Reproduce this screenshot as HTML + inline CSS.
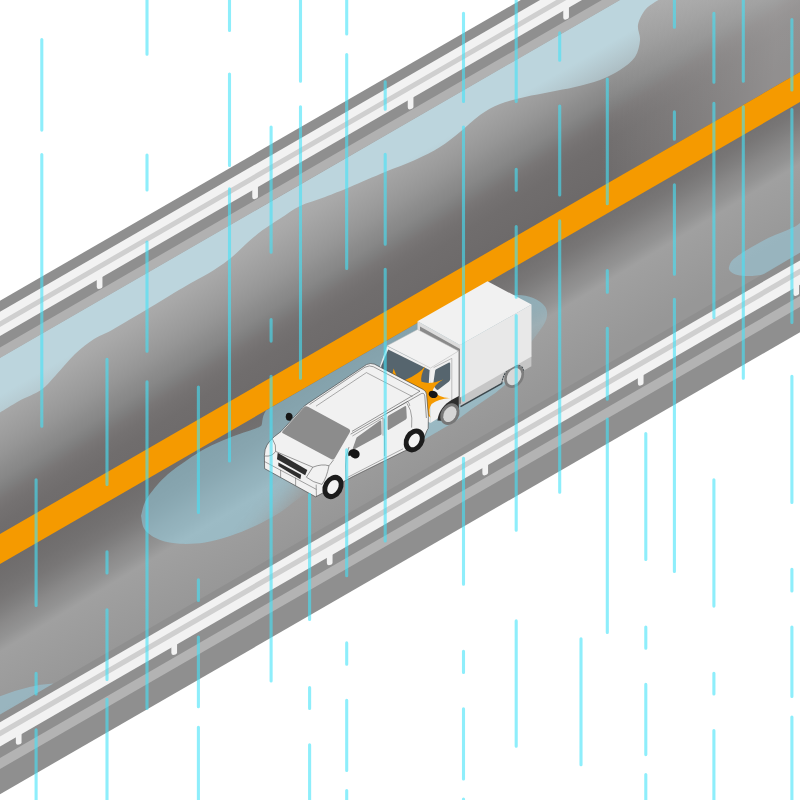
<!DOCTYPE html><html><head><meta charset="utf-8"><style>html,body{margin:0;padding:0;background:#fff;overflow:hidden}svg{display:block}</style></head><body>
<svg width="800" height="800" viewBox="0 0 800 800">
<defs>
<linearGradient id="gU" gradientUnits="userSpaceOnUse" x1="0" y1="340.00" x2="117.26" y2="526.13"><stop offset="0.0000" stop-color="#b0b0b0" stop-opacity="1"/><stop offset="0.2308" stop-color="#ababab" stop-opacity="1"/><stop offset="0.2692" stop-color="#a8a8a8" stop-opacity="1"/><stop offset="0.3846" stop-color="#9c9c9c" stop-opacity="1"/><stop offset="0.4423" stop-color="#959595" stop-opacity="1"/><stop offset="0.5000" stop-color="#8c8c8c" stop-opacity="1"/><stop offset="0.5385" stop-color="#878787" stop-opacity="1"/><stop offset="0.5769" stop-color="#7f7f7f" stop-opacity="1"/><stop offset="0.6154" stop-color="#797676" stop-opacity="1"/><stop offset="0.6538" stop-color="#747171" stop-opacity="1"/><stop offset="0.7115" stop-color="#706d6d" stop-opacity="1"/><stop offset="0.8462" stop-color="#6d6a6a" stop-opacity="1"/><stop offset="1.0000" stop-color="#6d6a6a" stop-opacity="1"/></linearGradient>
<linearGradient id="gL" gradientUnits="userSpaceOnUse" x1="0" y1="530.00" x2="86.69" y2="672.12"><stop offset="0.0000" stop-color="#6e6b6b" stop-opacity="1"/><stop offset="0.1846" stop-color="#6f6c6c" stop-opacity="1"/><stop offset="0.2718" stop-color="#727070" stop-opacity="1"/><stop offset="0.3538" stop-color="#787676" stop-opacity="1"/><stop offset="0.4205" stop-color="#807f7f" stop-opacity="1"/><stop offset="0.4821" stop-color="#8a8989" stop-opacity="1"/><stop offset="0.5590" stop-color="#939393" stop-opacity="1"/><stop offset="0.6256" stop-color="#a0a0a0" stop-opacity="1"/><stop offset="0.7949" stop-color="#9c9c9c" stop-opacity="1"/><stop offset="1.0000" stop-color="#979797" stop-opacity="1"/></linearGradient>
<linearGradient id="wU" gradientUnits="userSpaceOnUse" x1="0" y1="358.00" x2="48.50" y2="442.00"><stop offset="0.0000" stop-color="#bcd5dd" stop-opacity="1"/><stop offset="0.3304" stop-color="#bcd5dd" stop-opacity="1"/><stop offset="0.7321" stop-color="#b4ccd4" stop-opacity="0.6"/><stop offset="1.0000" stop-color="#b0c8d0" stop-opacity="0.45"/></linearGradient>
<linearGradient id="fd1" gradientUnits="userSpaceOnUse" x1="655.00" y1="0" x2="689.76" y2="27.80"><stop offset="0.0000" stop-color="rgb(255,255,255)"/><stop offset="0.1930" stop-color="rgb(242,242,242)"/><stop offset="0.3684" stop-color="rgb(204,204,204)"/><stop offset="0.5088" stop-color="rgb(148,148,148)"/><stop offset="0.6140" stop-color="rgb(102,102,102)"/><stop offset="0.7544" stop-color="rgb(43,43,43)"/><stop offset="0.8772" stop-color="rgb(15,15,15)"/><stop offset="1.0000" stop-color="rgb(0,0,0)"/></linearGradient>
<linearGradient id="fd2" gradientUnits="userSpaceOnUse" x1="530" y1="290" x2="550" y2="342"><stop offset="0" stop-color="#ffffff" stop-opacity="1"/><stop offset="0.3" stop-color="#e0e0e0" stop-opacity="1"/><stop offset="0.65" stop-color="#8c8c8c" stop-opacity="1"/><stop offset="1" stop-color="#3c3c3c" stop-opacity="1"/></linearGradient>
<mask id="mW" maskUnits="userSpaceOnUse" x="0" y="0" width="800" height="800"><rect width="800" height="800" fill="#fff"/>
<polygon points="340,393.75 340,700 95,700" fill="url(#fd1)"/>
<polygon points="490,270 580,270 580,375 490,375" fill="url(#fd2)"/>
</mask>
<radialGradient id="halo" gradientUnits="userSpaceOnUse" cx="655" cy="42" r="62"><stop offset="0" stop-color="#000" stop-opacity="0.2"/><stop offset="0.5" stop-color="#000" stop-opacity="0.13"/><stop offset="1" stop-color="#000" stop-opacity="0"/></radialGradient>
<linearGradient id="liteR" gradientUnits="userSpaceOnUse" x1="600" y1="0" x2="775" y2="0"><stop offset="0" stop-color="#fff" stop-opacity="0"/><stop offset="1" stop-color="#fff" stop-opacity="0.25"/></linearGradient>
<clipPath id="cU"><polygon points="-10.00,363.77 810.00,-109.65 810.00,66.35 -10.00,539.77" fill="#000" /></clipPath>
</defs>
<rect width="800" height="800" fill="#ffffff"/>
<polygon points="-10.00,306.47 810.00,-166.95 810.00,326.55 -10.00,799.97" fill="#8f8f8f" />
<polygon points="-10.00,353.27 810.00,-120.15 810.00,-109.65 -10.00,363.77" fill="#b1b1b1" />
<polygon points="-10.00,363.77 810.00,-109.65 810.00,72.35 -10.00,545.77" fill="url(#gU)" />
<polygon points="-10.00,563.77 810.00,90.35 810.00,246.85 -10.00,720.27" fill="url(#gL)" />
<g clip-path="url(#cU)"><rect x="600" y="0" width="210" height="200" fill="url(#liteR)"/></g>
<polygon points="-10.00,539.77 810.00,66.35 810.00,96.35 -10.00,569.77" fill="#f59a00" />
<polygon points="-10.00,763.77 810.00,290.35 810.00,301.35 -10.00,774.77" fill="#b3b3b3" />
<path d="M0.0,412.5 C3.2,410.6 12.2,404.8 19.0,401.0 C25.8,397.2 34.8,394.3 41.0,390.0 C47.2,385.7 50.3,381.0 56.0,375.0 C61.7,369.0 68.7,360.0 75.0,354.0 C81.3,348.0 87.8,343.0 94.0,339.0 C100.2,335.0 102.7,335.2 112.0,330.0 C121.3,324.8 137.4,315.0 150.0,307.5 C162.6,300.0 176.8,291.2 187.5,285.0 C198.2,278.8 206.6,274.7 214.0,270.0 C221.4,265.3 226.5,261.5 232.0,257.0 C237.5,252.5 242.0,247.4 247.0,243.0 C252.0,238.6 256.3,234.8 262.0,230.6 C267.7,226.4 274.7,222.1 281.0,218.0 C287.3,213.9 292.7,209.5 300.0,206.0 C307.3,202.5 316.7,200.2 325.0,197.0 C333.3,193.8 340.0,191.2 350.0,187.0 C360.0,182.8 374.2,176.5 385.0,172.0 C395.8,167.5 405.8,164.2 415.0,160.0 C424.2,155.8 432.5,151.7 440.0,147.0 C447.5,142.3 453.3,137.3 460.0,132.0 C466.7,126.7 473.3,119.7 480.0,115.0 C486.7,110.3 492.5,107.0 500.0,104.0 C507.5,101.0 516.7,99.0 525.0,97.0 C533.3,95.0 541.7,93.7 550.0,92.0 C558.3,90.3 566.7,89.0 575.0,87.0 C583.3,85.0 592.5,82.8 600.0,80.0 C607.5,77.2 614.2,73.8 620.0,70.0 C625.8,66.2 631.7,62.0 635.0,57.0 C638.3,52.0 639.5,45.3 640.0,40.0 C640.5,34.7 637.2,30.0 638.0,25.0 C638.8,20.0 642.2,13.8 645.0,10.0 C647.8,6.2 651.7,4.2 655.0,2.0 C658.3,-0.2 663.3,-2.2 665.0,-3.0 L700.0,-46.1 L-10.0,363.8 L0,358 Z" fill="url(#wU)"/>
<path d="M141.0,516.0 C141.7,513.7 142.7,506.8 145.0,502.0 C147.3,497.2 151.5,491.8 155.0,487.5 C158.5,483.2 161.8,479.8 166.0,476.0 C170.2,472.2 173.5,469.5 180.0,465.0 C186.5,460.5 196.7,453.3 205.0,448.8 C213.3,444.2 221.7,440.8 230.0,437.5 C238.3,434.2 249.8,430.7 255.0,428.8 C260.2,426.8 260.0,426.5 261.0,426.0 C263,424 261,418 266,410.4 L417.5,323.0 L487,294 L517,295 C526,294.5 540,299 545,306.5 C549,313 547,320 543,326 C539,332 534,338 529,345 L520,365 L507,383 C503,387 500,389 496,392.5 L472.5,408.5 L455,421.5 L420,442 L385,459.5 L360,455 C354.2,460.5 333.3,481.8 325.0,488.0 C316.7,494.2 314.2,490.9 310.0,492.5 C305.8,494.1 305.0,494.2 300.0,497.5 C295.0,500.8 287.5,507.8 280.0,512.5 C272.5,517.2 263.3,522.1 255.0,526.0 C246.7,529.9 238.3,533.2 230.0,536.0 C221.7,538.8 213.3,541.2 205.0,542.5 C196.7,543.8 187.5,544.2 180.0,543.8 C172.5,543.3 165.8,542.3 160.0,540.0 C154.2,537.7 148.2,534.0 145.0,530.0 C141.8,526.0 141.7,518.3 141.0,516.0 Z" fill="#98d5e9" fill-opacity="0.5" mask="url(#mW)"/>
<path d="M728.8,268.0 C729.1,267.0 729.5,264.0 731.0,262.0 C732.5,260.0 734.3,258.3 737.5,256.0 C740.7,253.7 745.8,250.5 750.0,248.0 C754.2,245.5 758.3,243.2 762.5,241.0 C766.7,238.8 770.8,236.8 775.0,235.0 C779.2,233.2 783.8,231.7 787.5,230.0 C791.2,228.3 794.6,227.0 797.5,225.0 C800.4,223.0 803.8,219.2 805.0,218.0 L805,249.7 L764.0,273.9 C758,276 745,277 737.5,275 C732,273.5 729,271 728.75,268 Z" fill="#98d5e9" fill-opacity="0.47"/>
<path d="M-5,698.4 Q26,685.2 53.4,683.6 L-5,717.4 Z" fill="#98d5e9" fill-opacity="0.47"/>
<polygon points="-10.00,317.57 810.00,-155.85 810.00,-131.65 -10.00,341.77" fill="#f2f2f2" />
<polygon points="-10.00,326.97 810.00,-146.45 810.00,-140.65 -10.00,332.77" fill="#cfcfcf" />
<path d="M96.75,279.14 L96.75,286.80 Q96.75,289.00 98.75,289.00 L100.85,288.40 Q102.45,287.80 102.45,286.40 L102.45,275.85 Z" fill="#f2f2f2"/>
<path d="M252.25,189.36 L252.25,197.02 Q252.25,199.22 254.25,199.22 L256.35,198.62 Q257.95,198.02 257.95,196.62 L257.95,186.07 Z" fill="#f2f2f2"/>
<path d="M407.75,99.59 L407.75,107.24 Q407.75,109.44 409.75,109.44 L411.85,108.84 Q413.45,108.24 413.45,106.84 L413.45,96.29 Z" fill="#f2f2f2"/>
<path d="M563.25,9.81 L563.25,17.46 Q563.25,19.66 565.25,19.66 L567.35,19.06 Q568.95,18.46 568.95,17.06 L568.95,6.52 Z" fill="#f2f2f2"/>
<polygon points="-10.00,728.07 810.00,254.65 810.00,278.95 -10.00,752.37" fill="#f2f2f2" />
<polygon points="-10.00,736.27 810.00,262.85 810.00,268.85 -10.00,742.27" fill="#cfcfcf" />
<path d="M15.85,736.45 L15.85,742.60 Q15.85,744.80 17.85,744.80 L19.95,744.20 Q21.55,743.60 21.55,742.20 L21.55,733.16 Z" fill="#f2f2f2"/>
<path d="M171.35,646.67 L171.35,652.83 Q171.35,655.03 173.35,655.03 L175.45,654.43 Q177.05,653.83 177.05,652.43 L177.05,643.38 Z" fill="#f2f2f2"/>
<path d="M326.85,556.89 L326.85,563.05 Q326.85,565.25 328.85,565.25 L330.95,564.65 Q332.55,564.05 332.55,562.65 L332.55,553.60 Z" fill="#f2f2f2"/>
<path d="M482.35,467.12 L482.35,473.27 Q482.35,475.47 484.35,475.47 L486.45,474.87 Q488.05,474.27 488.05,472.87 L488.05,463.82 Z" fill="#f2f2f2"/>
<path d="M637.85,377.34 L637.85,383.49 Q637.85,385.69 639.85,385.69 L641.95,385.09 Q643.55,384.49 643.55,383.09 L643.55,374.05 Z" fill="#f2f2f2"/>
<path d="M793.35,287.56 L793.35,293.71 Q793.35,295.91 795.35,295.91 L797.45,295.31 Q799.05,294.71 799.05,293.31 L799.05,284.27 Z" fill="#f2f2f2"/>
<g id="truck">
<polygon points="460.5,395.6 531.4,355.6 531.4,366.2 460.5,406.4" fill="#c6c6c6"/>
<path d="M460.5,406.6 L502,383.4" fill="none" stroke="#3d474c" stroke-width="1.5"/>
<path d="M501.8,383.6 Q503,374 509,368.6 Q517,363.5 521.8,367 Q524,369.6 523.2,373" fill="none" stroke="#3d474c" stroke-width="1.2" stroke-dasharray="2.2 0.8"/>
<g transform="translate(514.1,376.6) rotate(-60)"><ellipse rx="11.9" ry="9.2" fill="#7d7d7d"/><ellipse rx="9.2" ry="6.6" fill="#d8d8d8"/></g>
<polygon points="417.5,321.2 460.0,345.0 460.0,398.0 417.5,374.0" fill="#dcdcdc"/>
<polygon points="420.0,326.5 461.0,349.5 461.0,403.5 458.0,405.0 458.0,352.0 420.0,331.0" fill="#8a8a8a"/>
<polygon points="460.0,345.0 531.5,304.6 531.5,356.5 460.0,397.5" fill="#e8e8e8"/>
<polygon points="417.5,321.2 487.5,281.2 531.5,304.6 460.0,345.0" fill="#f1f1f1"/>
<polygon points="387.0,346.0 430.5,368.0 430.5,423.0 380.0,396.0 380.0,366.0" fill="#efefef"/>
<path d="M388.2,349.4 L429.6,370 L428,395 L381.5,372 L381.2,366 Z" fill="#56656e"/>
<path d="M430.5,368 L458.5,351 L458.5,405.5 L430.5,423 Z" fill="#f0f0f0"/>
<path d="M436.2,369.2 L449,362.6 Q450.2,362.2 450.2,363.6 L450.2,379 Q450.2,380.4 449,381.4 L438.5,389.6 Q437.3,390.4 436,389 L433.6,386 Q433,385 433.3,383.6 L435.2,370.6 Q435.4,369.6 436.2,369.2 Z" fill="#56656e"/>
<path d="M433.6,367.6 L451.8,358.4 L451.8,404" fill="none" stroke="#9a9a9a" stroke-width="0.6"/>
<path d="M437.4,420.4 C438.6,411 444.5,404 451.5,400 L458.8,396 L458.8,413 L446,421 Z" fill="#2e2e2e"/>
<polygon points="387.0,345.8 417.5,329.5 458.5,351.0 430.5,368.0" fill="#f2f2f2" stroke="#b8b8b8" stroke-width="0.5"/>
<g transform="translate(449.9,414.2) rotate(-60)"><ellipse rx="11.4" ry="9.0" fill="#777777"/><ellipse rx="8.4" ry="6.0" fill="#d5d5d5"/></g>
</g>
<path d="M393.6,368.4 Q393.2,373 391,375.5 L400,380 Q395.4,375 393.6,368.4 Z" fill="#f59a00"/>
<path d="M403,381 L406,379.6 Q419,374 425.3,366.3 Q420,376 421.5,381.8 Q430,385 443.2,379.4 Q435,384 432.6,390.6 Q440,398.6 450.2,398 Q438,399 431.6,404 Q428,409 430.4,417.6 Q426,414 423.6,410.6 L423.6,392 Z" fill="#f59a00"/>
<g id="car">
<path d="M264.6,468.6 L264.4,455.5 Q264.6,449 267,445 Q270,440 274.5,436.5 L281,431.5 L302.5,408 Q304.5,405.6 308,403.4 L366.5,364.6 Q370.5,362.6 374.5,364.2 L423,389.4 Q426.4,391.2 426.6,394.5 L428.4,416 L428.2,428.4 L427,430.4 L421,445 L404,451.2 L352,477 L318,495.6 L315.5,496.8 Z" fill="#f1f1f1" stroke="#3a3a3a" stroke-width="0.6" stroke-linejoin="round"/>
<g transform="translate(333.0,487.0) rotate(-60)"><ellipse rx="12.8" ry="9.8" fill="#1c1c1c"/><ellipse rx="7.6" ry="5.0" fill="#f4f4f4"/></g>
<g transform="translate(414.2,440.4) rotate(-60)"><ellipse rx="12.6" ry="9.8" fill="#1c1c1c"/><ellipse rx="7.3" ry="5.0" fill="#f4f4f4"/></g>
<path d="M284,429.6 L303.8,407.6 Q305.6,405.6 308,406.8 L348.6,428.8 Q351,430.2 349.6,432.8 L334.6,458.4 Q333.4,460.2 331.4,459.2 L282.4,433 Q281.4,432.2 284,429.6 Z" fill="#8c8c8c"/>
<path d="M309.5,404.5 L365,367.2 Q369.5,364.8 373.5,366.8 L420,391.2 L352,431.4" fill="none" stroke="#3a3a3a" stroke-width="0.5"/>
<path d="M316,406.2 L366.4,372.6 L412.5,396.6" fill="none" stroke="#3a3a3a" stroke-width="0.4"/>
<path d="M350.6,434.2 L421.4,393.6 Q424.4,392.6 424.8,396 L426.4,418" fill="none" stroke="#3a3a3a" stroke-width="0.5"/>
<path d="M356.6,437.4 L379.8,420.8 Q381.2,420 381.3,421.6 L381.6,433.4 Q381.6,434.4 380.6,435 L354,449.4 Q352,450.2 353,447.8 Z" fill="#8c8c8c"/>
<path d="M388.6,415.6 L404.8,406.2 Q406,405.6 406.2,407 L406.8,417.6 Q406.8,418.8 405.8,419.4 L388.8,429.8 Q387.6,430.4 387.6,429 L387.6,417.2 Q387.6,416.2 388.6,415.6 Z" fill="#8c8c8c"/>
<path d="M384.4,418.6 L384.6,456" fill="none" stroke="#3a3a3a" stroke-width="0.45"/>
<path d="M349,447 Q345,456 345.6,466 L346,479.6" fill="none" stroke="#3a3a3a" stroke-width="0.45"/>
<path d="M407,403.4 Q411.4,410 411.8,418 L411.6,427.6" fill="none" stroke="#3a3a3a" stroke-width="0.45"/>
<path d="M386.4,413.6 L407.6,401.4 Q409.4,402.6 409.8,406" fill="none" stroke="#3a3a3a" stroke-width="0.4"/>
<path d="M352.4,436 L383,417.6 L383,435.6" fill="none" stroke="#3a3a3a" stroke-width="0.4"/>
<path d="M347.5,477.4 L403,448.8" fill="none" stroke="#3a3a3a" stroke-width="0.4"/>
<path d="M275.6,451.4 L312.8,467.2 Q322,463.5 329,465.8 L333.6,459.8" fill="none" stroke="#3a3a3a" stroke-width="0.5"/>
<path d="M272.4,439 Q276.6,445 275.6,451.4 Q272,457 264.6,456" fill="none" stroke="#3a3a3a" stroke-width="0.5"/>
<path d="M312.8,467.2 L306.4,477.2 Q313,482.5 322,484.4 Q326.6,478 329,465.8" fill="none" stroke="#3a3a3a" stroke-width="0.5"/>
<path d="M264.6,461.6 L316.4,489.4" fill="none" stroke="#3a3a3a" stroke-width="0.45"/>
<path d="M280.6,469.8 L280.6,477.4 M295.6,477.6 L295.6,485.6" fill="none" stroke="#3a3a3a" stroke-width="0.45"/>
<path d="M316.2,484.6 L316.4,496.6" fill="none" stroke="#3a3a3a" stroke-width="0.45"/>
<defs><pattern id="gr" width="2" height="2" patternUnits="userSpaceOnUse" patternTransform="rotate(30)"><rect width="2" height="2" fill="#262626"/><circle cx="1" cy="1" r="0.45" fill="#6a6a6a"/></pattern></defs>
<path d="M277.7,452.8 L307.3,470 L305.2,475.2 L277,459.2 Z" fill="url(#gr)"/>
<path d="M278.4,462.4 L301.2,474.8 L300.4,479.2 L278.4,466 Z" fill="url(#gr)"/>
<path d="M286.2,414.2 Q288.4,411.8 291.2,413.6 Q293,415 292.6,417.4 L290.6,420.6 Q288.2,421.4 286.4,419.6 Q285,417 286.2,414.2 Z" fill="#161616"/>
<path d="M348.6,452 Q350.6,448.6 355.2,449.2 Q360.2,450.6 359.6,455 Q358.8,458.8 354.6,458.4 Q351.6,457.8 350.2,455.6 L348.4,456.2 Q347.6,454 348.6,452 Z" fill="#161616"/>
</g>
<ellipse cx="433.2" cy="394.4" rx="4.6" ry="3.6" fill="#161616" transform="rotate(15 433.2 394.4)"/>
<path d="M41.8,39.5V130.1M41.8,154.5V426.2M36.1,479.8V605.5M36.1,673.2V693.9M36.1,729.9V803.5M107.0,359.3V484.5M107.0,551.7V573.0M107.0,609.8V679.4M107.0,699.2V803.5M147.0,-3.5V54.2M147.0,155.1V189.9M147.0,242.1V351.2M147.0,381.9V708.4M198.4,387.0V512.5M198.4,579.8V600.4M198.4,637.1V706.7M198.4,727.2V803.5M229.5,-3.5V30.5M229.5,74.1V165.5M229.5,188.8V460.9M271.1,127.0V252.3M271.1,319.5V341.1M271.1,376.2V681.0M300.5,-3.5V81.2M300.5,106.8V378.2M309.6,494.3V619.5M309.6,687.5V708.5M309.6,744.8V803.5M346.7,-3.5V33.9M346.7,54.5V268.5M346.7,449.8V575.7M346.7,642.9V664.2M346.7,700.2V770.5M346.7,790.5V803.5M385.2,81.8V109.2M385.2,154.4V244.2M385.2,269.2V541.0M463.5,13.3V101.5M463.5,127.0V400.2M463.5,458.2V584.2M463.5,651.3V672.5M463.5,708.7V778.9M463.5,799.1V803.5M516.2,-3.5V101.5M516.2,169.2V190.2M516.2,226.5V297.2M516.2,315.5V530.2M516.2,620.9V746.2M559.7,32.9V60.3M559.7,106.1V194.9M559.7,220.9V492.3M581.0,638.8V764.7M607.3,79.1V203.7M607.3,270.5V292.2M607.3,328.3V399.2M607.3,419.0V632.5M645.8,433.5V559.5M645.8,627.0V648.3M645.8,684.4V754.6M645.8,774.5V803.5M674.4,-3.5V27.2M674.4,111.9V139.2M674.4,184.8V274.3M674.4,299.2V571.4M713.9,13.3V82.2M713.9,103.4V317.5M713.9,479.8V606.1M713.9,673.2V693.9M713.9,730.6V803.5M743.3,-3.5V81.2M743.3,106.8V378.2M791.9,19.5V90.0M791.9,109.5V322.5M791.9,376.2V502.5M791.9,569.3V590.9M791.9,627.0V696.5M791.9,717.1V803.5" fill="none" stroke="#43e3f8" stroke-opacity="0.6" stroke-width="3.1" stroke-linecap="round"/>
</svg></body></html>
